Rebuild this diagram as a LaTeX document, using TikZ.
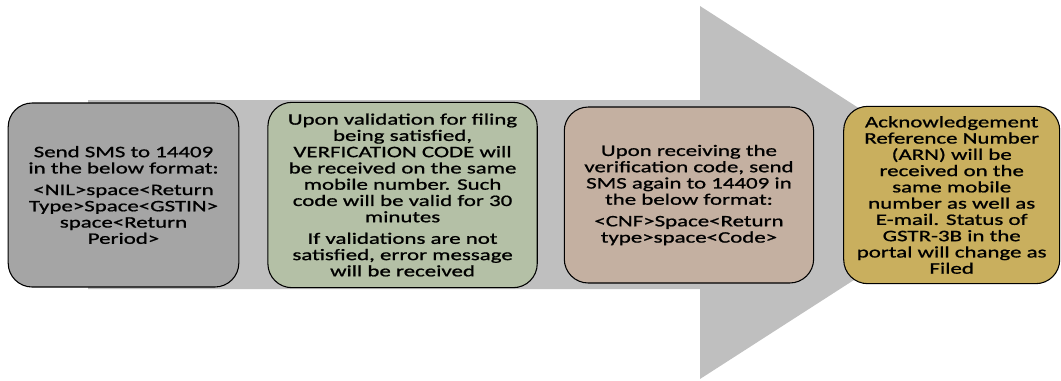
\documentclass[tikz,border=0pt]{standalone}
\usepackage{fontspec}
\setmainfont{Carlito}[FakeStretch=1.43, FakeBold=1]
\usepackage{xcolor}
\definecolor{colorArrow}{HTML}{BFBFBF}
\definecolor{colorSend}{HTML}{A5A5A5}
\definecolor{colorValid}{HTML}{B4C0A6}
\definecolor{colorConfirm}{HTML}{C4B0A1}
\definecolor{colorAck}{HTML}{C9AF5E}
\usetikzlibrary{positioning}
\tikzset{stepbox/.style={draw=black, line width=0.8pt, rounded corners=18pt, align=center,
  font=\fontsize{12}{12.2}\selectfont, inner sep=2pt}}

\begin{document}
\begin{tikzpicture}[x=0.75pt, y=-0.75pt, node distance=21pt]
\useasboundingbox (0,0) rectangle (1061,380);
% big arrow behind the steps
\fill[colorArrow] (88,100) -- (700,100) -- (700,6) -- (990,192.5) -- (700,379) -- (700,289) -- (88,289) -- cycle;
\node[stepbox, fill=colorSend, minimum width=173pt, minimum height=138pt] (b1) at (123.5,195) {Send SMS to 14409\\in the below format:\\[4pt]<NIL>space<Return\\Type>Space<GSTIN>\\space<Return\\Period>};
\node[stepbox, fill=colorValid, minimum width=202pt, minimum height=139pt, right=21pt of b1] (b2) {Upon validation for filing\\being satisfied,\\VERFICATION CODE will\\be received on the same\\mobile number. Such\\code will be valid for 30\\minutes\\[4pt]If validations are not\\satisfied, error message\\will be received};
\node[stepbox, fill=colorConfirm, minimum width=187pt, minimum height=132pt, right=19.5pt of b2] (b3) {Upon receiving the\\verification code, send\\SMS again to 14409 in\\the below format:\\[4pt]<CNF>Space<Return\\type>space<Code>};
\node[stepbox, fill=colorAck, minimum width=162pt, minimum height=133pt, right=21.75pt of b3] (b4) {Acknowledgement\\Reference Number\\(ARN) will be\\received on the\\same mobile\\number as well as\\E-mail. Status of\\GSTR-3B in the\\portal will change as\\Filed};
\end{tikzpicture}
\end{document}
